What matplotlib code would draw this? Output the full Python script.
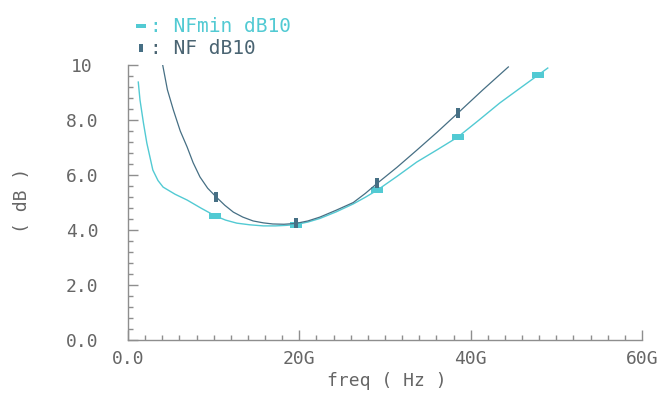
import matplotlib
matplotlib.use("Agg")
import matplotlib.pyplot as plt
from matplotlib.lines import Line2D
from matplotlib.ticker import MultipleLocator

# frequency in GHz, noise figure in dB
nf_freq = [3.6, 4.05, 4.6, 5.3, 6.1, 6.9, 7.6, 8.4, 9.3, 10.3, 11.3, 12.3,
           13.4, 14.6, 15.8, 16.9, 18.2, 19.6, 21.0, 22.4, 24.3, 26.3, 27.7,
           29.1, 31.4, 33.7, 36.1, 38.5, 41.4, 44.4]
nf_db = [11.0, 10.0, 9.1, 8.36, 7.6, 7.02, 6.45, 5.93, 5.52, 5.2, 4.9, 4.65,
         4.47, 4.33, 4.26, 4.22, 4.21, 4.24, 4.33, 4.47, 4.72, 5.0, 5.33,
         5.7, 6.28, 6.9, 7.56, 8.25, 9.09, 9.93]
nf_marks = [9, 17, 23, 27]

nfmin_freq = [1.2, 1.4, 1.8, 2.2, 2.9, 3.5, 4.1, 5.5, 6.9, 8.5, 10.2, 11.4,
              12.7, 14.2, 15.8, 17.2, 18.5, 19.6, 21.0, 22.4, 24.3, 26.3,
              27.7, 29.1, 31.4, 33.7, 36.1, 38.5, 40.9, 43.4, 45.6, 47.9, 49.0]
nfmin_db = [9.38, 8.73, 7.9, 7.16, 6.18, 5.8, 5.56, 5.3, 5.09, 4.8, 4.51, 4.36,
            4.25, 4.19, 4.15, 4.15, 4.17, 4.2, 4.29, 4.42, 4.66, 4.95, 5.19,
            5.45, 5.95, 6.47, 6.92, 7.38, 7.98, 8.62, 9.12, 9.64, 9.89]
nfmin_marks = [10, 17, 23, 27, 31]

xticks = [0, 20, 40, 60]
xtick_labels = ["0.0", "20G", "40G", "60G"]
yticks = [0, 2, 4, 6, 8, 10]
ytick_labels = ["0.0", "2.0", "4.0", "6.0", "8.0", "10"]

NF_COLOR = "#466f84"
NFMIN_COLOR = "#52cad3"
AXIS_COLOR = "#8e8e8e"
TEXT_COLOR = "#666666"
FONT = "DejaVu Sans Mono"

# thin rectangles used as curve markers
vbar = [(-0.45, -1), (0.45, -1), (0.45, 1), (-0.45, 1), (-0.45, -1)]
hbar = [(-1, -0.5), (1, -0.5), (1, 0.5), (-1, 0.5), (-1, -0.5)]

fig = plt.figure(figsize=(6.67, 3.94), dpi=100)
ax = fig.add_axes([0.1919, 0.137, 0.7706, 0.698])

ax.plot(nfmin_freq, nfmin_db, color=NFMIN_COLOR, lw=1.0,
        marker=hbar, markersize=8, markevery=nfmin_marks,
        markerfacecolor=NFMIN_COLOR, markeredgewidth=0)
ax.plot(nf_freq, nf_db, color=NF_COLOR, lw=0.9,
        marker=vbar, markersize=7, markevery=nf_marks,
        markerfacecolor=NF_COLOR, markeredgewidth=0)

ax.set_xlim(0, 60)
ax.set_ylim(0, 10)
for side in ("top", "right"):
    ax.spines[side].set_visible(False)
for side in ("left", "bottom"):
    ax.spines[side].set_color(AXIS_COLOR)
    ax.spines[side].set_linewidth(1.0)

ax.set_xticks(xticks)
ax.set_xticklabels(xtick_labels)
ax.set_yticks(yticks)
ax.set_yticklabels(ytick_labels, ha="center")
ax.xaxis.set_minor_locator(MultipleLocator(2))
ax.yaxis.set_minor_locator(MultipleLocator(0.4))
ax.tick_params(which="both", direction="in", color=AXIS_COLOR, width=1.0)
ax.tick_params(which="major", length=7)
ax.tick_params(which="minor", length=3.5)
ax.tick_params(axis="x", which="major", pad=7, labelsize=13,
               labelcolor=TEXT_COLOR)
ax.tick_params(axis="y", which="major", pad=33, labelsize=13,
               labelcolor=TEXT_COLOR)
for lab in ax.get_xticklabels() + ax.get_yticklabels():
    lab.set_fontfamily(FONT)

fig.text(387 / 667, 1 - 381 / 394, "freq ( Hz )", ha="center", va="center",
         fontsize=13, color=TEXT_COLOR, family=FONT)
fig.text(22 / 667, 1 - 200 / 394, "( dB )", ha="center", va="center",
         rotation=90, fontsize=13, color=TEXT_COLOR, family=FONT)

# legend entries above the plot
fig.add_artist(Line2D([141 / 667], [1 - 26 / 394], transform=fig.transFigure,
                      marker=hbar, markersize=7, color=NFMIN_COLOR,
                      markeredgewidth=0, linestyle="none"))
fig.text(150 / 667, 1 - 26 / 394, ": NFmin dB10", ha="left", va="center",
         fontsize=14, color=NFMIN_COLOR, family=FONT)
fig.add_artist(Line2D([141 / 667], [1 - 48 / 394], transform=fig.transFigure,
                      marker=vbar, markersize=6, color=NF_COLOR,
                      markeredgewidth=0, linestyle="none"))
fig.text(150 / 667, 1 - 48 / 394, ": NF dB10", ha="left", va="center",
         fontsize=14, color="#4a6472", family=FONT)

fig.savefig("out.png", dpi=100)
